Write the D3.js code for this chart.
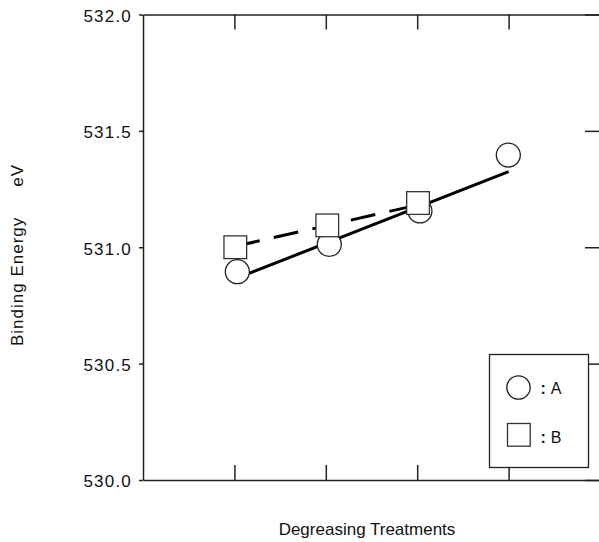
<!DOCTYPE html>
<html>
<head>
<meta charset="utf-8">
<script src="https://cdn.jsdelivr.net/npm/d3@7"></script>
<style>
  body { margin: 0; background: #fff; }
  text { font-family: "Liberation Sans", Arial, sans-serif; fill: #111; }
  .axis path, .axis line { stroke: #222; stroke-width: 1.5; }
  .axis text { font-size: 17px; letter-spacing: 1.2px; fill: #111; }
</style>
</head>
<body>
<div id="chart"></div>
<script>
// treatment positions (no labels on the x axis)
var xTicks = [1, 2, 3, 4];
var yTicks = [530.0, 530.5, 531.0, 531.5, 532.0];

// series A (circles)
var xA = [1.032, 2.038, 3.03, 3.997];
var yA = [530.895, 531.012, 531.156, 531.396];
// series B (squares)
var xB = [1.01, 2.016, 3.009];
var yB = [531.0, 531.094, 531.19];

// fitted lines drawn in the original
var fitAx = [1.032, 4.0];
var fitAy = [530.868, 531.325];
var fitBx = [1.01, 3.009];
var fitBy = [531.004, 531.182];

var legendLabels = ['A', 'B'];

var chartW = 599, chartH = 542;
var plotLeft = 143, plotRight = 600, plotTop = 14.5, plotBottom = 480;

var svg = d3.select('#chart')
    .append('svg')
    .attr('width', chartW)
    .attr('height', chartH)

var x = d3.scaleLinear().domain([0, 5]).range([plotLeft, plotRight]);
var y = d3.scaleLinear().domain([530, 532]).range([plotBottom, plotTop]);

// axes
svg.append('g')
    .attr('class', 'axis')
    .attr('transform', 'translate(' + plotLeft + ',0)')
    .call(d3.axisLeft(y).tickValues(yTicks).tickFormat(d3.format('.1f'))
        .tickSizeInner(4).tickSizeOuter(0).tickPadding(7))
    .selectAll('text').attr('dy', '0.4em');

svg.append('g')
    .attr('class', 'axis')
    .attr('transform', 'translate(' + plotRight + ',0)')
    .call(d3.axisLeft(y).tickValues(yTicks).tickFormat('')
        .tickSizeInner(15).tickSizeOuter(0));

svg.append('g')
    .attr('class', 'axis')
    .attr('transform', 'translate(0,' + plotTop + ')')
    .call(d3.axisBottom(x).tickValues(xTicks).tickFormat('')
        .tickSizeInner(15).tickSizeOuter(0));

svg.append('g')
    .attr('class', 'axis')
    .attr('transform', 'translate(0,' + plotBottom + ')')
    .call(d3.axisTop(x).tickValues(xTicks).tickFormat('')
        .tickSizeInner(15).tickSizeOuter(0));

// lines
var line = d3.line().x((d) => x(d[0])).y((d) => y(d[1]));

svg.append('path')
    .datum(d3.zip(fitAx, fitAy))
    .attr('d', line)
    .style('fill', 'none')
    .style('stroke', '#000')
    .style('stroke-width', 3);

svg.append('path')
    .datum(d3.zip(fitBx, fitBy))
    .attr('d', line)
    .style('fill', 'none')
    .style('stroke', '#000')
    .style('stroke-width', 3)
    .style('stroke-dasharray', '25,14.5');

// markers
var r = 12, sq = 22.7;

svg.selectAll('.ptA')
    .data(d3.zip(xA, yA))
    .enter()
    .append('circle')
    .attr('class', 'ptA')
    .attr('cx', (d) => x(d[0]))
    .attr('cy', (d) => y(d[1]))
    .attr('r', r)
    .style('fill', '#fff')
    .style('stroke', '#222')
    .style('stroke-width', 1.3);

svg.selectAll('.ptB')
    .data(d3.zip(xB, yB))
    .enter()
    .append('rect')
    .attr('class', 'ptB')
    .attr('x', (d) => x(d[0]) - sq / 2)
    .attr('y', (d) => y(d[1]) - sq / 2)
    .attr('width', sq)
    .attr('height', sq)
    .style('fill', '#fff')
    .style('stroke', '#333')
    .style('stroke-width', 1.3);

// legend
var lg = svg.append('g').attr('transform', 'translate(489.5,354.5)');
lg.append('rect')
    .attr('width', 99)
    .attr('height', 113)
    .style('fill', '#fff')
    .style('stroke', '#222')
    .style('stroke-width', 1.3);

lg.append('circle')
    .attr('cx', 29).attr('cy', 33).attr('r', 11.7)
    .style('fill', '#fff').style('stroke', '#222').style('stroke-width', 1.3);
lg.append('rect')
    .attr('x', 18).attr('y', 69).attr('width', sq).attr('height', sq)
    .style('fill', '#fff').style('stroke', '#333').style('stroke-width', 1.3);

var lt = lg.selectAll('.lt')
    .data(legendLabels)
    .enter()
    .append('text')
    .attr('class', 'lt')
    .attr('x', 51)
    .attr('y', (d, i) => 39 + i * 49)
    .style('font-size', '16px');
lt.append('tspan').style('font-weight', 'bold').text(':');
lt.append('tspan').attr('dx', 5).text((d) => d);

// axis titles
svg.append('text')
    .attr('x', 367)
    .attr('y', 535)
    .attr('text-anchor', 'middle')
    .style('font-size', '17px')
    .text('Degreasing Treatments');

var yt = svg.append('text')
    .attr('transform', 'translate(23,255) rotate(-90)')
    .attr('text-anchor', 'middle')
    .style('font-size', '17px')
    .style('letter-spacing', '1px');
yt.append('tspan').text('Binding Energy');
yt.append('tspan').attr('dx', 30).text('eV');
</script>
</body>
</html>
